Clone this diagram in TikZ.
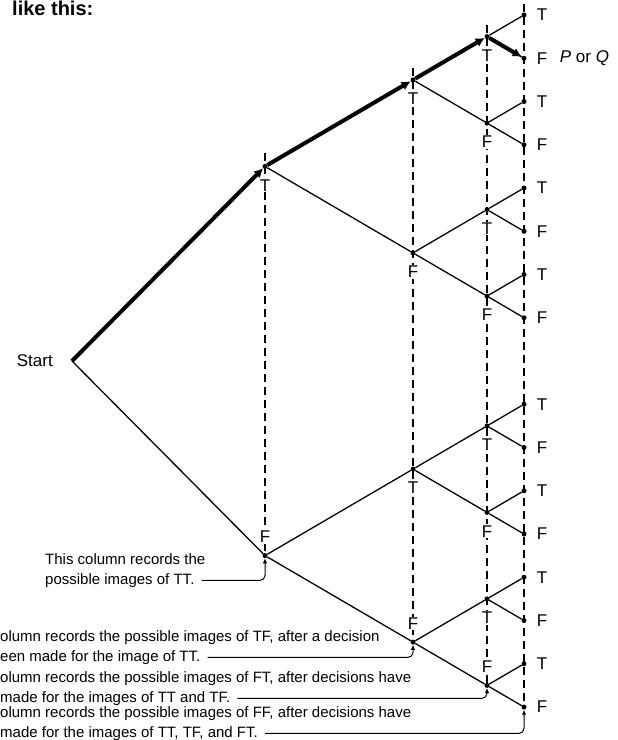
\documentclass[tikz,border=0pt]{standalone}
\usepackage{fontspec}
\setmainfont{Liberation Sans}
\usetikzlibrary{positioning,arrows.meta,backgrounds}

\begin{document}
\begin{tikzpicture}[
    x=1pt, y=-1pt,
    dot/.style={circle, fill, inner sep=0pt, minimum size=5pt},
    leaf/.style={dot, label distance=6pt},
    lbl/.style={font=\fontsize{17}{17}\selectfont, fill=white, inner sep=1pt},
    every label/.style={lbl},
    label distance=9pt,
    note/.style={font=\fontsize{15}{17}\selectfont, inner xsep=0pt, inner ysep=3pt,
                 text height=11pt, text depth=3pt, anchor=west},
    branch/.style={line width=1.3pt},
    chosen/.style={line width=4pt, -{Latex[length=9pt,width=9.5pt]}},
    guide/.style={line width=1.1pt, dash pattern=on 8pt off 5pt},
    pointer/.style={line width=1pt, rounded corners=5pt, shorten <=7pt,
                    -{Latex[length=5pt,width=4.5pt]}}
]
\useasboundingbox (0,0) rectangle (618,740);

\node[font=\fontsize{20}{20}\selectfont\bfseries, anchor=base west, inner sep=0pt] (head) at (12,15) {like this:};

% the tree of choices
\coordinate (root) at (72,361);
\node[lbl, left=18pt of root] (start) {Start};

\node[dot, label=below:T] (T) at (265,166.4) {};
\node[dot, label=above:F] (F) at (265,555.6) {};

\node[dot, label=below:T] (TT) at (413,79.9) {};
\node[dot, label=below:F] (TF) at (413,252.9) {};
\node[dot, label=below:T] (FT) at (413,469.1) {};
\node[dot, label=above:F] (FF) at (413,642.1) {};

\node[dot, label=below:T] (TTT) at (487,36.6) {};
\node[dot, label=below:F] (TTF) at (487,123.1) {};
\node[dot, label=below:T] (TFT) at (487,209.6) {};
\node[dot, label=below:F] (TFF) at (487,296.1) {};
\node[dot, label=below:T] (FTT) at (487,425.9) {};
\node[dot, label=below:F] (FTF) at (487,512.4) {};
\node[dot, label=below:T] (FFT) at (487,598.9) {};
\node[dot, label=above:F] (FFF) at (487,685.4) {};

\foreach \name/\y/\v in {TTTT/15/T, TTTF/58.25/F, TTFT/101.5/T, TTFF/144.75/F,
                         TFTT/188/T, TFTF/231.25/F, TFFT/274.5/T, TFFF/317.75/F,
                         FTTT/404.25/T, FTTF/447.5/F, FTFT/490.75/T, FTFF/534/F,
                         FFTT/577.25/T, FFTF/620.5/F, FFFT/663.75/T, FFFF/707/F}
    \node[leaf, label=right:\v] (\name) at (524,\y) {};

\node[lbl, right=32pt of TTTF] (porq) {\textit{P} or \textit{Q}};

% columns
\begin{scope}[on background layer]
\draw[guide] ([yshift=13pt]T.center) -- (F);
\draw[guide] ([yshift=12pt]TT.center) -- (FF);
\draw[guide] ([yshift=12pt]TTT.center) -- (FFF);
\draw[guide] ([yshift=11pt]TTTT.center) -- (FFFF);
\end{scope}

\draw[branch] (root) -- (F) (T) -- (TF) (F) -- (FT) (F) -- (FF)
              (TT) -- (TTF) (TF) -- (TFT) (TF) -- (TFF)
              (FT) -- (FTT) (FT) -- (FTF) (FF) -- (FFT) (FF) -- (FFF);
\foreach \n in {TTT,TTF,TFT,TFF,FTT,FTF,FFT,FFF}
    \draw[branch] (\n) -- (\n T) (\n) -- (\n F);

\draw[chosen] (root) -- (T);
\draw[chosen] (T) -- (TT);
\draw[chosen] (TT) -- (TTT);
\draw[chosen] (TTT) -- (TTTF);

% what each column records
\node[note] (ta) at (45,560) {This column records the};
\node[note, below=0pt of ta.south west, anchor=north west] (tb) {possible images of TT.};
\draw[pointer] (tb.east) -| (F);

\node[note] (ba) at (0,637) {olumn records the possible images of TF, after a decision};
\node[note, below=0pt of ba.south west, anchor=north west] (bb) {een made for the image of TT.};
\draw[pointer] (bb.east) -| (FF);

\node[note] (ca) at (0,678) {olumn records the possible images of FT, after decisions have};
\node[note, below=0pt of ca.south west, anchor=north west] (cb) {made for the images of TT and TF.};
\draw[pointer] (cb.east) -| (FFF);

\node[note] (da) at (0,713) {olumn records the possible images of FF, after decisions have};
\node[note, below=0pt of da.south west, anchor=north west] (db) {made for the images of TT, TF, and FT.};
\draw[pointer] (db.east) -| (FFFF);
\end{tikzpicture}
\end{document}
